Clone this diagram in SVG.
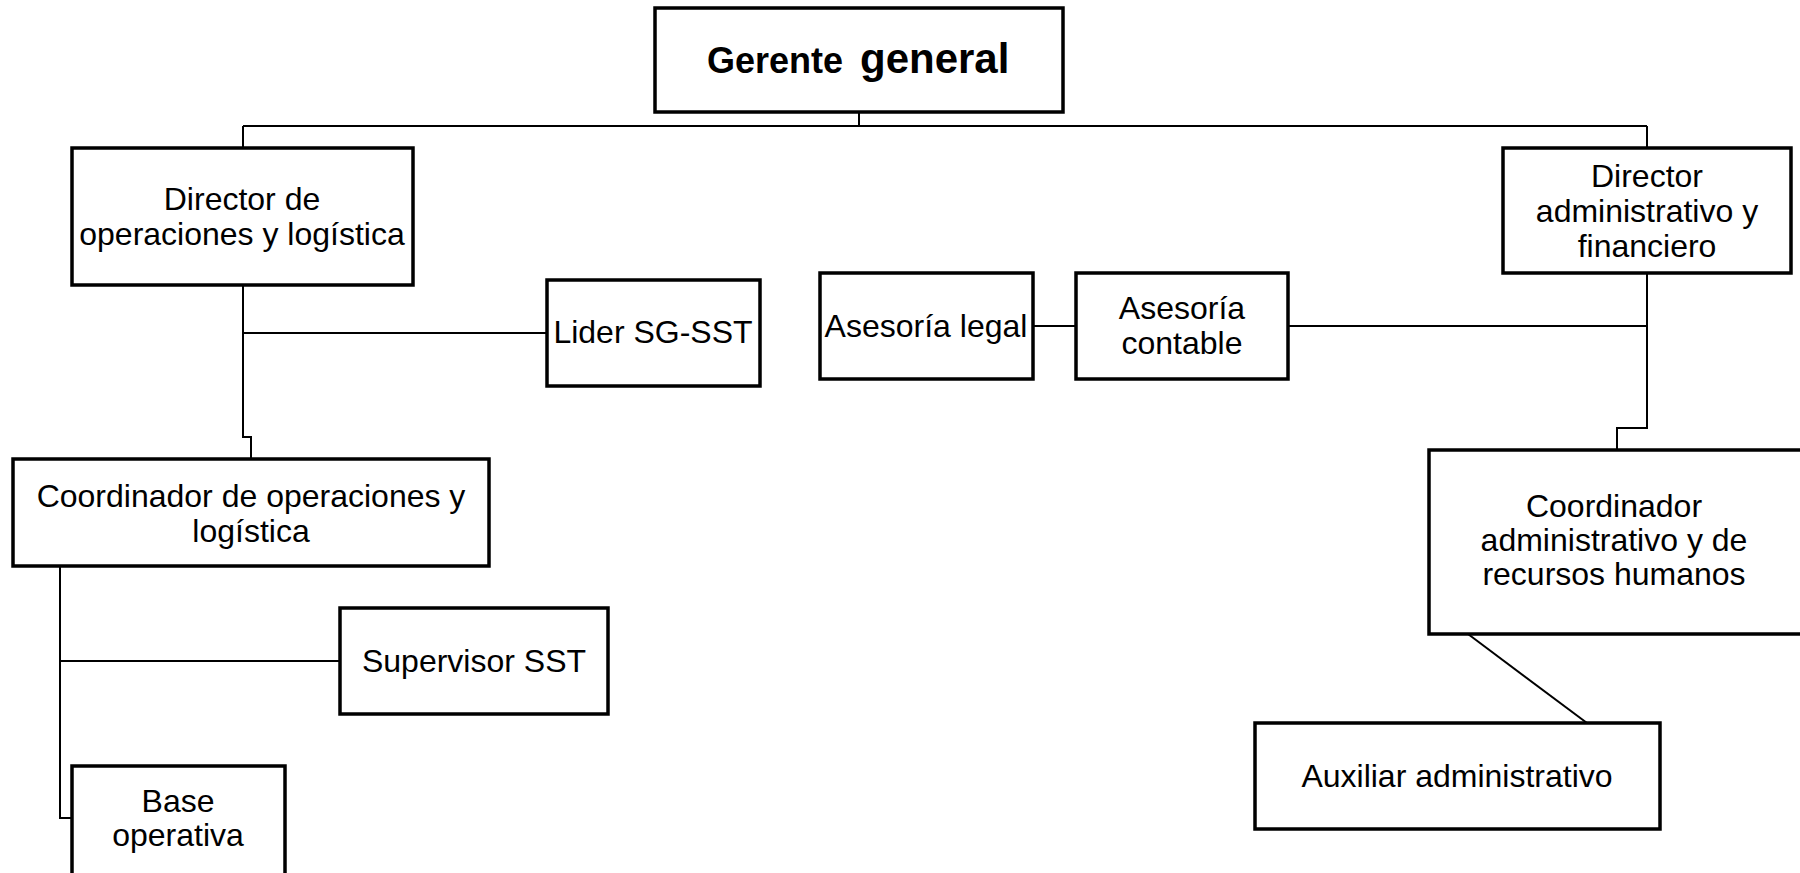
<svg xmlns="http://www.w3.org/2000/svg" width="1800" height="873" viewBox="0 0 1800 873">
<style>
.box{fill:#fff;stroke:#000;stroke-width:3.5}
.t{font-family:"Liberation Sans",Arial,sans-serif;font-size:32px;fill:#000;text-anchor:middle}
.b{font-family:"Liberation Sans",Arial,sans-serif;font-weight:bold;fill:#000}
.c{fill:none;stroke:#000;stroke-width:2}
</style>
<rect width="1800" height="873" fill="#fff"/>
<g id="connectors">
<path class="c" d="M859 113V126M243 126H1647M243 126V148M1647 126V148"/>
<path class="c" d="M243 285V437H251V459M243 333H547"/>
<path class="c" d="M1033 326H1076M1288 326H1647M1647 273V428H1617V450"/>
<path class="c" d="M60 566V818H72M60 661H340"/>
<path class="c" d="M1468 634L1587 723"/>
</g>
<g id="gerente"><rect class="box" x="655" y="8" width="408" height="104"/>
<text class="b" x="707" y="73" font-size="36">Gerente</text><text class="b" x="860" y="73" font-size="42">general</text></g>
<g id="dir-op"><rect class="box" x="72" y="148" width="341" height="137"/>
<text class="t" x="242" y="210">Director de</text><text class="t" x="242" y="245">operaciones y logística</text></g>
<g id="lider"><rect class="box" x="547" y="280" width="213" height="106"/>
<text class="t" x="653" y="343">Lider SG-SST</text></g>
<g id="legal"><rect class="box" x="820" y="273" width="213" height="106"/>
<text class="t" x="926" y="337">Asesoría legal</text></g>
<g id="contable"><rect class="box" x="1076" y="273" width="212" height="106"/>
<text class="t" x="1182" y="319">Asesoría</text><text class="t" x="1182" y="354">contable</text></g>
<g id="dir-adm"><rect class="box" x="1503" y="148" width="288" height="125"/>
<text class="t" x="1647" y="187">Director</text><text class="t" x="1647" y="222">administrativo y</text><text class="t" x="1647" y="257">financiero</text></g>
<g id="coord-op"><rect class="box" x="13" y="459" width="476" height="107"/>
<text class="t" x="251" y="507">Coordinador de operaciones y</text><text class="t" x="251" y="542">logística</text></g>
<g id="supervisor"><rect class="box" x="340" y="608" width="268" height="106"/>
<text class="t" x="474" y="672">Supervisor SST</text></g>
<g id="base"><rect class="box" x="72" y="766" width="213" height="110"/>
<text class="t" x="178" y="812">Base</text><text class="t" x="178" y="846">operativa</text></g>
<g id="coord-adm"><rect class="box" x="1429" y="450" width="375" height="184"/>
<text class="t" x="1614" y="517">Coordinador</text><text class="t" x="1614" y="551">administrativo y de</text><text class="t" x="1614" y="585">recursos humanos</text></g>
<g id="auxiliar"><rect class="box" x="1255" y="723" width="405" height="106"/>
<text class="t" x="1457" y="787">Auxiliar administrativo</text></g>
</svg>
